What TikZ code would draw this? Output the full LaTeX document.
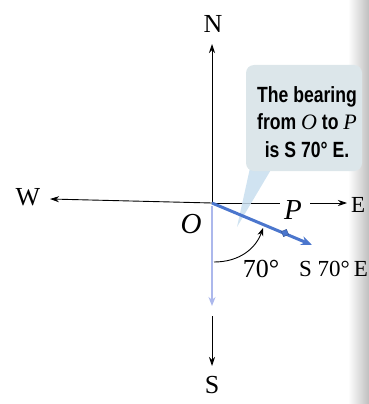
\documentclass[tikz,border=0pt]{standalone}
\usepackage{fontspec}
\setmainfont{Liberation Serif}
\newfontfamily\calloutfont[FakeStretch=0.8]{Liberation Sans}
\usetikzlibrary{arrows.meta,shapes.geometric}
\definecolor{rayblue}{RGB}{75,118,205}
\definecolor{paleblue}{RGB}{172,184,236}
\definecolor{boxfill}{RGB}{220,230,234}
\definecolor{tailfill}{RGB}{200,222,238}
\begin{document}
\begin{tikzpicture}[x=1pt,y=-1pt,
  axis/.style={line width=0.9pt,-{Stealth[length=9pt,width=6pt]}},
  lbl/.style={font=\fontsize{26}{28}\selectfont,inner sep=0pt},
  ital/.style={font=\fontsize{29}{30}\selectfont\itshape,inner sep=0pt}]
\useasboundingbox (0,0) rectangle (369,404);
\shade[left color=white,right color=black!25] (348,0) rectangle (369,404);
% axes
\coordinate (O) at (212,203);
\coordinate (Ntip) at (212,44);
\coordinate (Wtip) at (50,199);
\coordinate (Eend) at (280,203);
\coordinate (Es) at (310,203);
\coordinate (Etip) at (347,203);
\node[lbl] (N) at (213,24) {N};
\node[lbl] (W) at (28,197) {W};
\node[lbl,anchor=west,font=\fontsize{23}{26}\selectfont] (E) at (351,205) {E};
\node[lbl] (S) at (212,385) {S};
\node[ital] (Olab) at (191,224) {O};
\node[ital] (P) at (293,210) {P};
\draw[axis] (O) -- (Ntip);
\draw[axis] (O) -- (Wtip);
\draw[line width=0.9pt] (O) -- (Eend);
\draw[axis] (Es) -- (Etip);
% callout
\fill[tailfill,opacity=0.85] (250,168) -- (272,168) -- (237,227) -- cycle;
\node[fill=boxfill,rounded corners=8pt,minimum width=116pt,minimum height=106pt,inner sep=0pt] (box) at (304,118) {};
\node[font=\calloutfont\bfseries\fontsize{22}{27.5}\selectfont,align=center,inner sep=0pt] (ctext) at (307,122)
  {The bearing\\from \textit{\textmd{\rmfamily O}} to \textit{\textmd{\rmfamily P}}\\is S 70° E.};
% south
\coordinate (Sb1) at (212,206);
\coordinate (Sb2) at (212,306);
\coordinate (Sk1) at (212,316);
\coordinate (Sk2) at (212,366);
\draw[paleblue,line width=2.2pt,-{Stealth[length=9pt,width=7pt]}] (Sb1) -- (Sb2);
\draw[axis] (Sk1) -- (Sk2);
% ray
\coordinate (Rtip) at (312,245);
\coordinate (Pdot) at (285,233);
\draw[rayblue,line width=3pt,-{Stealth[length=11pt,width=9pt]}] (O) -- (Rtip);
\node[diamond,fill=rayblue,draw=rayblue!70!black,minimum size=8pt,inner sep=0pt,rotate=-22] (Pd) at (Pdot) {};
% angle arc
\coordinate (A1) at (214,262);
\coordinate (A2) at (263,228);
\draw[line width=0.9pt,-{Stealth[length=8pt,width=6pt]}] (A1) .. controls (240,262) and (256,248) .. (A2);
\node[lbl] (ang) at (261,269) {70°};
\node[lbl,anchor=west,font=\fontsize{23}{26}\selectfont] (dir) at (299,269) {S 70°\,E};
\end{tikzpicture}
\end{document}
